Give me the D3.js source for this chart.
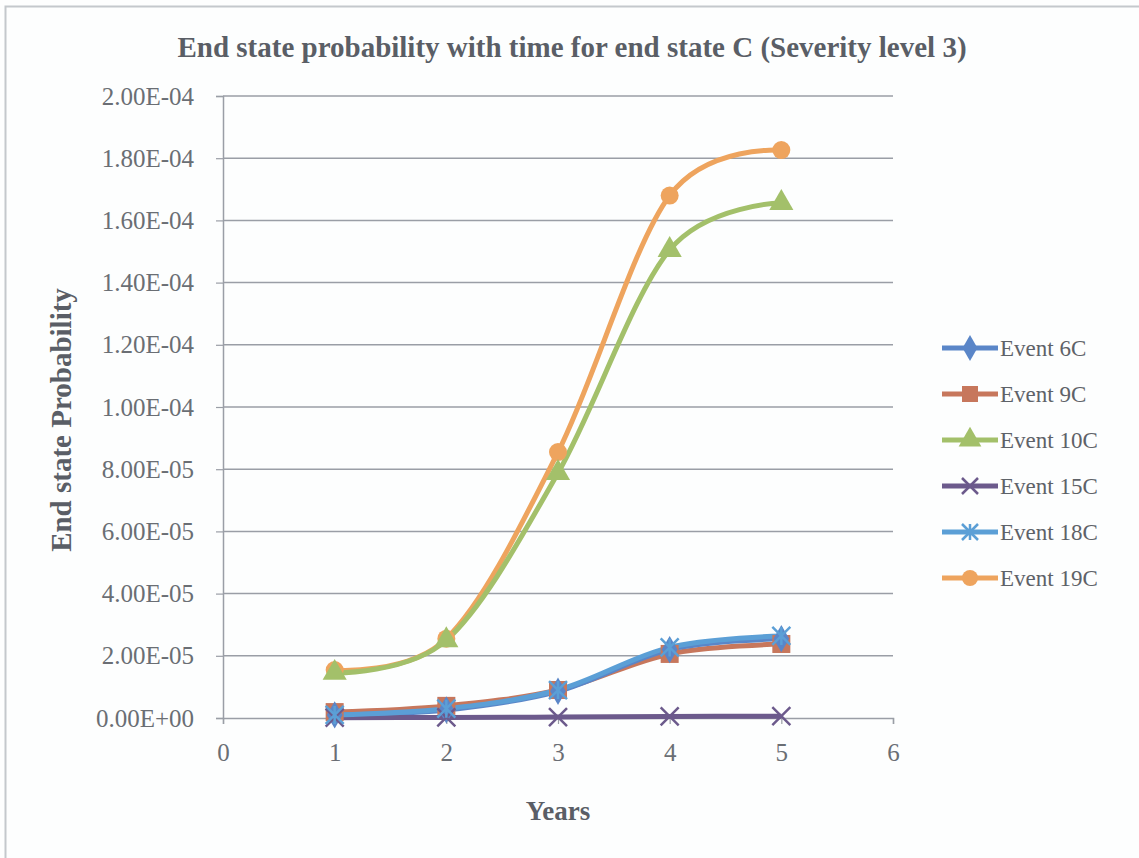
<!DOCTYPE html>
<html>
<head>
<meta charset="utf-8">
<script src="https://cdn.jsdelivr.net/npm/d3@7"></script>
<style>
  body { margin: 0; background: #fdfefe; }
  svg { display: block; }
  text { font-family: "Liberation Serif", "Times New Roman", serif; }
</style>
</head>
<body>
<svg id="chart"></svg>
<script>
// values
const years = [1, 2, 3, 4, 5];
const seriesNames = ["Event 6C", "Event 9C", "Event 10C", "Event 15C", "Event 18C", "Event 19C"];
const event6C = [1.0e-6, 2.6e-6, 8.6e-6, 2.2e-5, 2.55e-5];
const event9C = [1.9e-6, 3.9e-6, 9.0e-6, 2.06e-5, 2.38e-5];
const event10C = [1.45e-5, 2.5e-5, 7.88e-5, 1.505e-4, 1.656e-4];
const event15C = [1e-7, 2e-7, 3e-7, 5e-7, 6e-7];
const event18C = [1.0e-6, 3.0e-6, 9.0e-6, 2.27e-5, 2.64e-5];
const event19C = [1.54e-5, 2.55e-5, 8.55e-5, 1.68e-4, 1.826e-4];
const yTicks = [0, 2e-5, 4e-5, 6e-5, 8e-5, 1e-4, 1.2e-4, 1.4e-4, 1.6e-4, 1.8e-4, 2e-4];
const xTicks = [0, 1, 2, 3, 4, 5, 6];

const seriesValues = [event6C, event9C, event10C, event15C, event18C, event19C];
const colors = ["#5a86c8", "#c7775c", "#a3c06a", "#6c5a8c", "#5b9fd6", "#eea45e"];
const symbols = ["diamond", "square", "triangle", "x", "star", "circle"];

const W = 1139, H = 858;
const margin = { left: 223, right: 246, top: 96, bottom: 140 };
const width = W - margin.left - margin.right;
const height = H - margin.top - margin.bottom;
const serif = "Liberation Serif, Times New Roman, serif";

const svg = d3.select("#chart").attr("width", W).attr("height", H);

// outer chart frame
svg.append("rect")
    .attr("x", 5.5).attr("y", 6.5)
    .attr("width", W + 10).attr("height", H + 10)
    .attr("fill", "#fdfefe")
    .attr("stroke", "#c4c8cc")
    .attr("stroke-width", 2);

const chart = svg.append("g")
    .attr("transform", `translate(${margin.left},${margin.top})`);

const xScale = d3.scaleLinear().domain([0, 6]).range([0, width]);
const yScale = d3.scaleLinear().domain([0, 2e-4]).range([height, 0]);

// gridlines
chart.append("g")
    .selectAll("line")
    .data(yTicks.slice(1))
    .join("line")
    .attr("x1", 0).attr("x2", width)
    .attr("y1", d => yScale(d)).attr("y2", d => yScale(d))
    .attr("stroke", "#9a9ea6")
    .attr("stroke-width", 1.5);

const fmt = d => d.toExponential(2).toUpperCase().replace(/E([+-])(\d)$/, "E$10$2");

const yAxis = d3.axisLeft(yScale)
    .tickValues(yTicks)
    .tickFormat(fmt)
    .tickSize(7)
    .tickPadding(22);

const xAxis = d3.axisBottom(xScale)
    .tickValues(xTicks)
    .tickFormat(d3.format("d"))
    .tickSize(6)
    .tickPadding(24);

const gy = chart.append("g").attr("class", "y axis").call(yAxis);
const gx = chart.append("g").attr("class", "x axis")
    .attr("transform", `translate(0,${height})`)
    .call(xAxis);

[gx, gy].forEach(g => {
    g.attr("font-family", serif);
    g.selectAll(".domain").attr("stroke", "#9a9ea6").attr("stroke-width", 1.5);
    g.selectAll(".tick line").attr("stroke", "#9a9ea6").attr("stroke-width", 1.2);
    g.selectAll(".tick text")
        .attr("fill", "#6a6e74")
        .attr("font-family", serif)
        .style("font-size", "25px");
});
gx.selectAll(".tick text").attr("dy", "0.35em").attr("y", 34);

// lines
const line = d3.line()
    .x((d, i) => xScale(years[i]))
    .y(d => yScale(d))
    .curve(d3.curveCatmullRom.alpha(0));

const drawOrder = [5, 2, 1, 0, 3, 4];

drawOrder.forEach(s => {
    chart.append("path")
        .datum(seriesValues[s])
        .attr("fill", "none")
        .attr("stroke", colors[s])
        .attr("stroke-width", 5)
        .attr("d", line);
});

function marker(g, type, color, size) {
    if (type === "diamond") {
        g.append("path").attr("d", d3.symbol(d3.symbolDiamond, size * 12)()).attr("fill", color);
    } else if (type === "square") {
        g.append("rect").attr("x", -size / 2).attr("y", -size / 2)
            .attr("width", size).attr("height", size).attr("fill", color);
    } else if (type === "triangle") {
        g.append("path").attr("d", d3.symbol(d3.symbolTriangle, size * 14)()).attr("fill", color);
    } else if (type === "circle") {
        g.append("circle").attr("r", size / 2).attr("fill", color);
    } else if (type === "x") {
        const r = size / 2;
        g.append("path").attr("d", `M${-r},${-r}L${r},${r}M${-r},${r}L${r},${-r}`)
            .attr("stroke", color).attr("stroke-width", 2.5);
    } else if (type === "star") {
        const r = size / 2;
        g.append("path").attr("d", `M${-r},${-r}L${r},${r}M${-r},${r}L${r},${-r}M0,${-r}L0,${r}`)
            .attr("stroke", color).attr("stroke-width", 2.5);
    }
}

drawOrder.forEach(s => {
    seriesValues[s].forEach((v, i) => {
        const g = chart.append("g")
            .attr("transform", `translate(${xScale(years[i])},${yScale(v)})`);
        marker(g, symbols[s], colors[s], 18);
    });
});

// legend
const legend = svg.append("g").attr("transform", "translate(942,348)");
seriesNames.forEach((name, i) => {
    const row = legend.append("g").attr("transform", `translate(0,${i * 46})`);
    row.append("line")
        .attr("x1", 0).attr("x2", 56)
        .attr("stroke", colors[i]).attr("stroke-width", 5);
    const m = row.append("g").attr("transform", "translate(28,0)");
    marker(m, symbols[i], colors[i], 16);
    row.append("text")
        .attr("x", 58).attr("y", 8)
        .attr("fill", "#5e6268")
        .attr("font-family", serif)
        .style("font-size", "23px")
        .text(name);
});

// titles
svg.append("text")
    .attr("x", 572).attr("y", 57)
    .attr("text-anchor", "middle")
    .attr("fill", "#5a5e66")
    .attr("font-family", serif)
    .style("font-size", "29px")
    .style("font-weight", "bold")
    .text("End state probability with time for end state C (Severity level 3)");

svg.append("text")
    .attr("x", 558).attr("y", 820)
    .attr("text-anchor", "middle")
    .attr("fill", "#5a5e66")
    .attr("font-family", serif)
    .style("font-size", "27px")
    .style("font-weight", "bold")
    .text("Years");

svg.append("text")
    .attr("transform", `translate(71,420) rotate(-90)`)
    .attr("text-anchor", "middle")
    .attr("fill", "#5a5e66")
    .attr("font-family", serif)
    .style("font-size", "29px")
    .style("font-weight", "bold")
    .text("End state Probability");
</script>
</body>
</html>
